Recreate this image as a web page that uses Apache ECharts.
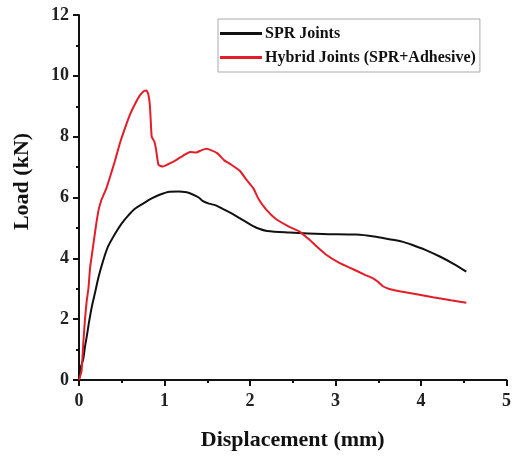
<!DOCTYPE html>
<html><head><meta charset="utf-8">
<script src="https://cdn.jsdelivr.net/npm/echarts@6/dist/echarts.min.js"></script>
<style>html,body{margin:0;padding:0;background:#fff}#c{width:514px;height:460px}</style>
</head><body><div id="c"></div>
<script>
var sprNames = ['SPR Joints', 'Hybrid Joints (SPR+Adhesive)'];
var xTicks = [0, 1, 2, 3, 4, 5];
var yTicks = [0, 2, 4, 6, 8, 10, 12];
var sprX = [0,0.02,0.05,0.07,0.09,0.12,0.15,0.19,0.23,0.28,0.34,0.42,0.5,0.58,0.65,0.75,0.85,0.95,1.06,1.16,1.26,1.33,1.4,1.45,1.52,1.6,1.7,1.8,1.88,2.0,2.1,2.2,2.46,2.85,3.24,3.45,3.63,3.78,3.9,4.05,4.22,4.38,4.53];
var sprY = [0,0.4,0.7,1.1,1.42,1.95,2.41,2.9,3.4,3.9,4.39,4.8,5.15,5.42,5.62,5.8,5.97,6.1,6.19,6.2,6.17,6.1,6.0,5.88,5.8,5.74,5.6,5.45,5.32,5.12,4.98,4.9,4.85,4.8,4.78,4.72,4.63,4.55,4.44,4.28,4.06,3.82,3.56];
var hybX = [0,0.03,0.05,0.07,0.09,0.11,0.13,0.15,0.17,0.2,0.23,0.26,0.29,0.32,0.36,0.42,0.48,0.54,0.6,0.66,0.71,0.76,0.79,0.81,0.83,0.85,0.88,0.9,0.93,0.98,1.06,1.14,1.22,1.3,1.37,1.43,1.49,1.55,1.62,1.7,1.78,1.88,1.96,2.04,2.1,2.19,2.3,2.45,2.58,2.7,2.78,2.9,3.05,3.2,3.35,3.44,3.5,3.55,3.62,3.75,3.95,4.14,4.35,4.53];
var hybY = [0,0.3,1.2,2.0,2.6,3.0,3.7,4.1,4.5,5.1,5.6,5.9,6.1,6.3,6.65,7.2,7.8,8.3,8.75,9.1,9.35,9.5,9.52,9.4,9.0,8.0,7.85,7.6,7.07,7.02,7.12,7.24,7.38,7.5,7.48,7.55,7.6,7.55,7.45,7.22,7.08,6.88,6.58,6.3,5.95,5.6,5.3,5.05,4.88,4.6,4.39,4.1,3.84,3.65,3.45,3.34,3.22,3.09,3.0,2.92,2.82,2.72,2.62,2.54];

function pairs(xs, ys) { return xs.map(function (x, i) { return [x, ys[i]]; }); }

var font = 'Liberation Serif';
var chart = echarts.init(document.getElementById('c'), null, {renderer: 'canvas'});
chart.setOption({
  animation: false,
  backgroundColor: '#fff',
  grid: {left: 79, right: 7, top: 15, bottom: 80, containLabel: false},
  legend: {
    orient: 'vertical', left: 218, top: 19,
    padding: [6, 4, 6, 2], itemGap: 7, itemWidth: 42, itemHeight: 3,
    icon: 'rect',
    borderColor: '#aaa', borderWidth: 1,
    textStyle: {fontFamily: font, fontWeight: 'bold', fontSize: 16, color: '#111', lineHeight: 17, padding: [0, 0, 0, -2]},
    data: sprNames
  },
  xAxis: {
    type: 'value', min: xTicks[0], max: xTicks[xTicks.length - 1], interval: 1,
    name: 'Displacement (mm)', nameLocation: 'middle', nameGap: 49,
    nameTextStyle: {fontFamily: font, fontWeight: 'bold', fontSize: 22, color: '#111'},
    axisLine: {show: true, onZero: false, lineStyle: {color: '#111', width: 2}},
    axisTick: {show: true, inside: false, length: 6, lineStyle: {color: '#111', width: 2}},
    minorTick: {show: true, splitNumber: 2, length: 3, lineStyle: {color: '#111', width: 2}},
    axisLabel: {fontFamily: font, fontWeight: 'bold', fontSize: 18, color: '#222', margin: 12},
    splitLine: {show: false}
  },
  yAxis: {
    type: 'value', min: yTicks[0], max: yTicks[yTicks.length - 1], interval: 2,
    name: 'Load (kN)', nameLocation: 'middle', nameGap: 46,
    nameTextStyle: {fontFamily: font, fontWeight: 'bold', fontSize: 22, color: '#111', padding: [0, 0, 0, 32]},
    axisLine: {show: true, onZero: false, lineStyle: {color: '#111', width: 2}},
    axisTick: {show: true, inside: false, length: 6, lineStyle: {color: '#111', width: 2}},
    minorTick: {show: true, splitNumber: 2, length: 3, lineStyle: {color: '#111', width: 2}},
    axisLabel: {fontFamily: font, fontWeight: 'bold', fontSize: 18, color: '#222', margin: 10},
    splitLine: {show: false}
  },
  series: [
    {name: sprNames[0], type: 'line', data: pairs(sprX, sprY), symbol: 'none', smooth: 0.3,
     lineStyle: {color: '#111', width: 2}, itemStyle: {color: '#111'}},
    {name: sprNames[1], type: 'line', data: pairs(hybX, hybY), symbol: 'none', smooth: 0.15,
     lineStyle: {color: '#e31e28', width: 2}, itemStyle: {color: '#e31e28'}}
  ]
});
</script></body></html>
